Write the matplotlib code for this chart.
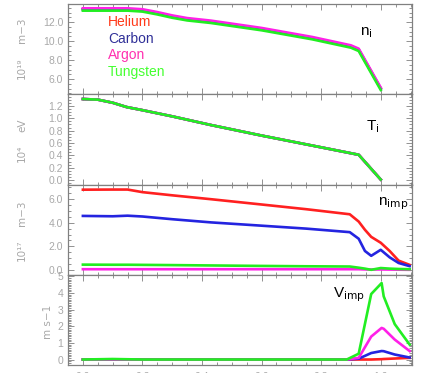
import matplotlib
matplotlib.use("Agg")
import matplotlib.pyplot as plt
from matplotlib.ticker import MultipleLocator, FixedLocator

plt.rcParams['font.family'] = ['Liberation Sans', 'DejaVu Sans']

species = ["Helium", "Carbon", "Argon", "Tungsten"]
colors = ["#ff2020", "#2424e0", "#ff20e8", "#22ee22"]
legend_colors = ["#ff3a1a", "#303098", "#ff30b0", "#44ff30"]

# Panel 1: ion density (1e19 m^-3)
x_prof = [0.0, 0.05, 0.1, 0.15, 0.2, 0.25, 0.3, 0.35, 0.43, 0.6, 0.77, 0.9, 0.926, 1.0]
ni_base = [13.3, 13.3, 13.3, 13.3, 13.2, 12.9, 12.55, 12.27, 12.0, 11.23, 10.28, 9.4, 9.05, 4.95]
ni_offset = {"Helium": 0.05, "Carbon": 0.05, "Argon": 0.15, "Tungsten": -0.1}

# Panel 2: ion temperature (1e4 eV)
x_ti = [0.0, 0.05, 0.1, 0.147, 0.2, 0.3, 0.43, 0.6, 0.8, 0.926, 1.0]
ti = [1.31, 1.30, 1.25, 1.18, 1.13, 1.03, 0.89, 0.72, 0.53, 0.41, 0.01]

# Panel 3: impurity density (1e17 m^-3)
x_imp = [0.0, 0.1, 0.15, 0.2, 0.3, 0.43, 0.6, 0.75, 0.896, 0.926, 0.947, 0.968, 1.0, 1.03, 1.06, 1.097]
nimp = {
    "Helium":   [6.81, 6.82, 6.82, 6.6, 6.33, 6.0, 5.55, 5.15, 4.72, 4.1, 3.4, 2.8, 2.3, 1.6, 0.78, 0.42],
    "Carbon":   [4.58, 4.55, 4.6, 4.53, 4.3, 4.03, 3.75, 3.5, 3.2, 2.64, 1.6, 1.19, 1.7, 1.06, 0.58, 0.31],
    "Argon":    [0.05, 0.05, 0.05, 0.05, 0.05, 0.05, 0.05, 0.05, 0.05, 0.05, 0.03, 0.02, 0.03, 0.02, 0.01, 0.0],
    "Tungsten": [0.44, 0.43, 0.43, 0.42, 0.4, 0.37, 0.33, 0.3, 0.28, 0.18, 0.1, 0.0, 0.15, 0.1, 0.07, 0.05],
}

# Panel 4: impurity velocity (m s^-1)
x_v = [0.0, 0.1, 0.2, 0.4, 0.6, 0.8, 0.886, 0.926, 0.968, 1.003, 1.01, 1.047, 1.097]
vimp = {
    "Helium":   [0, 0, 0, 0, 0, 0, 0, 0, 0.0, 0.02, 0.03, 0.06, 0.1],
    "Carbon":   [0, 0, 0, 0, 0, 0, 0, 0.05, 0.39, 0.51, 0.5, 0.3, 0.12],
    "Argon":    [0, 0, 0, 0, 0, 0, 0, 0.1, 1.38, 1.9, 1.85, 1.2, 0.51],
    "Tungsten": [0, 0.03, 0, 0, 0, 0, 0, 0.35, 3.94, 4.6, 3.8, 2.13, 0.9],
}

xticks = [0.0, 0.2, 0.4, 0.6, 0.8, 1.0]
xtick_labels = ["0.0", "0.2", "0.4", "0.6", "0.8", "1.0"]

W, H = 424, 373
fig = plt.figure(figsize=(W / 100, H / 100), dpi=100)
left, right = 68 / W, 412 / W
top_px, bot_px = 4, 365
ph = (bot_px - top_px) / 4

gray = "#a8a8a8"
spine_c = "#808080"
lw = 1.9

axes = []
for i in range(4):
    y0 = 1 - (top_px + (i + 1) * ph) / H
    ax = fig.add_axes([left, y0, right - left, ph / H])
    ax.set_xlim(-0.05, 1.105)
    for s in ax.spines.values():
        s.set_color(spine_c)
        s.set_linewidth(0.9)
    ax.tick_params(which="both", direction="in", top=True, right=True,
                   colors=spine_c, labelcolor=gray, labelsize=7.5, width=0.6)
    ax.tick_params(which="major", length=4)
    ax.tick_params(which="minor", length=2)
    ax.xaxis.set_major_locator(FixedLocator(xticks))
    ax.xaxis.set_minor_locator(MultipleLocator(0.05))
    if i < 3:
        ax.set_xticklabels([])
    else:
        ax.set_xticklabels(xtick_labels)
        ax.tick_params(axis="x", pad=5)
    axes.append(ax)

# Panel 1
ax = axes[0]
for sp, c in zip(species, colors):
    ax.plot(x_prof, [v + ni_offset[sp] for v in ni_base], color=c, lw=lw)
ax.set_ylim(4.4, 13.9)
ax.yaxis.set_major_locator(FixedLocator([6.0, 8.0, 10.0, 12.0]))
ax.set_yticklabels(["6.0", "8.0", "10.0", "12.0"])
ax.yaxis.set_minor_locator(MultipleLocator(0.5))
ax.text(0.93, 10.6, r"n$_\mathrm{i}$", fontsize=11)
for k, (sp, c) in enumerate(zip(species, legend_colors)):
    ax.text(0.085, 12.0 - k * 1.75, sp, color=c, fontsize=10, va="center")

# Panel 2
ax = axes[1]
for sp, c in zip(species, colors):
    ax.plot(x_ti, ti, color=c, lw=lw)
ax.set_ylim(-0.07, 1.387)
ax.yaxis.set_major_locator(MultipleLocator(0.2))
ax.yaxis.set_major_formatter(matplotlib.ticker.FormatStrFormatter("%.1f"))
ax.yaxis.set_minor_locator(MultipleLocator(0.05))
ax.text(0.95, 0.8, r"T$_\mathrm{i}$", fontsize=11)

# Panel 3
ax = axes[2]
for sp, c in zip(species, colors):
    ax.plot(x_imp, nimp[sp], color=c, lw=lw)
ax.set_ylim(-0.42, 7.25)
ax.yaxis.set_major_locator(MultipleLocator(2.0))
ax.yaxis.set_major_formatter(matplotlib.ticker.FormatStrFormatter("%.1f"))
ax.yaxis.set_minor_locator(MultipleLocator(0.5))
ax.text(0.99, 5.45, r"n$_\mathrm{imp}$", fontsize=11)

# Panel 4
ax = axes[3]
for sp, c in zip(species, colors):
    ax.plot(x_v, vimp[sp], color=c, lw=lw)
ax.set_ylim(-0.33, 5.1)
ax.yaxis.set_major_locator(MultipleLocator(1))
ax.yaxis.set_minor_locator(MultipleLocator(0.1))
ax.text(0.84, 3.75, r"V$_\mathrm{imp}$", fontsize=11)

# y-axis unit labels
def ylab(txt, xpx, ypx):
    fig.text(xpx / W, 1 - ypx / H, txt, rotation=90, color=gray, fontsize=7.5,
             ha="center", va="center", family=["DejaVu Sans"])

ylab("m\u22123", 22, 30)
ylab("10\u00b9\u2079", 22, 68)
ylab("eV", 22, 125)
ylab("10\u2074", 22, 153)
ylab("m\u22123", 22, 213)
ylab("10\u00b9\u2077", 22, 250)
ylab("m s\u22121", 48, 322)

fig.savefig("out.png", dpi=100)
